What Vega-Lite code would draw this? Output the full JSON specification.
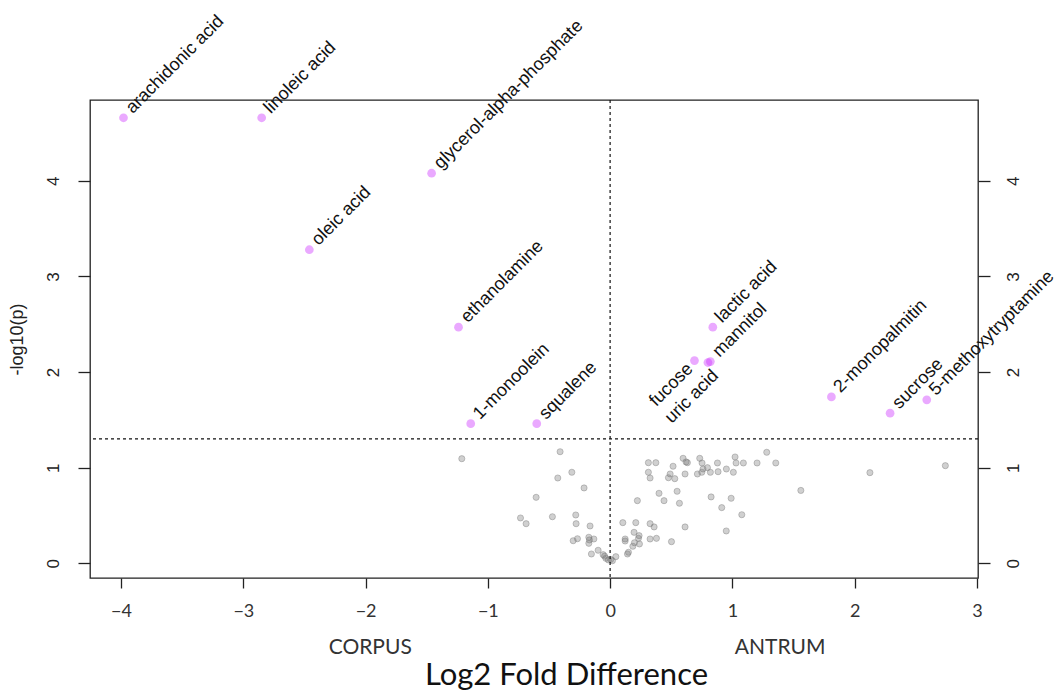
{
  "$schema": "https://vega.github.io/schema/vega-lite/v6.json",
  "width": 888,
  "height": 478,
  "autosize": {"type": "none"},
  "padding": {"left": 90, "top": 100, "right": 81, "bottom": 112},
  "background": "white",
  "config": {
    "view": {"stroke": "#222222", "strokeWidth": 1.3},
    "font": "Liberation Sans",
    "axis": {"grid": false, "domain": false, "tickColor": "#222222", "tickWidth": 1.3, "labelColor": "#222222", "titleColor": "#222222", "titleFontWeight": "normal"}
  },
  "datasets": {
    "ns": [
      {"fc": -1.213, "p": 1.094}, {"fc": -0.409, "p": 1.167}, {"fc": -0.313, "p": 0.952}, {"fc": -0.428, "p": 0.892},
      {"fc": -0.213, "p": 0.788}, {"fc": -0.605, "p": 0.690}, {"fc": -0.733, "p": 0.474}, {"fc": -0.687, "p": 0.414},
      {"fc": -0.472, "p": 0.487}, {"fc": -0.281, "p": 0.505}, {"fc": -0.278, "p": 0.414}, {"fc": -0.164, "p": 0.390},
      {"fc": -0.267, "p": 0.257}, {"fc": -0.302, "p": 0.236}, {"fc": -0.174, "p": 0.272}, {"fc": -0.169, "p": 0.244},
      {"fc": -0.133, "p": 0.254}, {"fc": -0.174, "p": 0.209}, {"fc": -0.153, "p": 0.097}, {"fc": -0.098, "p": 0.136},
      {"fc": -0.057, "p": 0.090}, {"fc": -0.035, "p": 0.052}, {"fc": -0.014, "p": 0.035}, {"fc": 0.019, "p": 0.027},
      {"fc": 0.047, "p": 0.069}, {"fc": -0.045, "p": 0.075}, {"fc": 0.005, "p": 0.040},
      {"fc": 0.142, "p": 0.097}, {"fc": 0.150, "p": 0.115}, {"fc": 0.186, "p": 0.178}, {"fc": 0.199, "p": 0.215},
      {"fc": 0.240, "p": 0.202}, {"fc": 0.232, "p": 0.261}, {"fc": 0.237, "p": 0.289}, {"fc": 0.196, "p": 0.324},
      {"fc": 0.123, "p": 0.254}, {"fc": 0.123, "p": 0.233}, {"fc": 0.104, "p": 0.425}, {"fc": 0.210, "p": 0.425},
      {"fc": 0.327, "p": 0.414}, {"fc": 0.360, "p": 0.380}, {"fc": 0.327, "p": 0.254}, {"fc": 0.379, "p": 0.261},
      {"fc": 0.502, "p": 0.226}, {"fc": 0.223, "p": 0.655}, {"fc": 0.400, "p": 0.732}, {"fc": 0.441, "p": 0.655},
      {"fc": 0.548, "p": 0.753}, {"fc": 0.567, "p": 0.628}, {"fc": 0.613, "p": 0.380}, {"fc": 0.313, "p": 1.052},
      {"fc": 0.374, "p": 1.052}, {"fc": 0.313, "p": 0.952}, {"fc": 0.327, "p": 0.892}, {"fc": 0.477, "p": 0.895},
      {"fc": 0.491, "p": 0.934}, {"fc": 0.529, "p": 0.885}, {"fc": 0.515, "p": 1.015}, {"fc": 0.597, "p": 1.098},
      {"fc": 0.632, "p": 1.052}, {"fc": 0.621, "p": 1.060}, {"fc": 0.613, "p": 0.934}, {"fc": 0.714, "p": 0.934},
      {"fc": 0.733, "p": 1.098}, {"fc": 0.752, "p": 1.049}, {"fc": 0.760, "p": 0.986}, {"fc": 0.750, "p": 0.952},
      {"fc": 0.796, "p": 1.000}, {"fc": 0.820, "p": 0.952}, {"fc": 0.878, "p": 1.049}, {"fc": 0.883, "p": 0.958},
      {"fc": 0.951, "p": 0.986}, {"fc": 1.008, "p": 0.952}, {"fc": 1.022, "p": 1.112}, {"fc": 1.030, "p": 1.049},
      {"fc": 1.090, "p": 1.049}, {"fc": 1.202, "p": 1.049}, {"fc": 1.281, "p": 1.161}, {"fc": 1.355, "p": 1.049},
      {"fc": 0.826, "p": 0.694}, {"fc": 0.990, "p": 0.680}, {"fc": 0.913, "p": 0.582}, {"fc": 1.077, "p": 0.508},
      {"fc": 0.950, "p": 0.338}, {"fc": 1.560, "p": 0.762}, {"fc": 2.125, "p": 0.948}, {"fc": 2.742, "p": 1.021}
    ],
    "sig": [
      {"name": "arachidonic acid", "fc": -3.98, "p": 4.66},
      {"name": "linoleic acid", "fc": -2.85, "p": 4.66},
      {"name": "glycerol-alpha-phosphate", "fc": -1.46, "p": 4.08},
      {"name": "oleic acid", "fc": -2.46, "p": 3.28},
      {"name": "ethanolamine", "fc": -1.24, "p": 2.47},
      {"name": "1-monoolein", "fc": -1.14, "p": 1.46},
      {"name": "squalene", "fc": -0.60, "p": 1.46},
      {"name": "fucose", "fc": 0.69, "p": 2.12},
      {"name": "uric acid", "fc": 0.80, "p": 2.10},
      {"name": "mannitol", "fc": 0.82, "p": 2.11},
      {"name": "lactic acid", "fc": 0.84, "p": 2.47},
      {"name": "2-monopalmitin", "fc": 1.81, "p": 1.74},
      {"name": "sucrose", "fc": 2.29, "p": 1.57},
      {"name": "5-methoxytryptamine", "fc": 2.59, "p": 1.71}
    ],
    "sides": [
      {"side": "CORPUS", "fc": -1.962, "p": -0.886},
      {"side": "ANTRUM", "fc": 1.39, "p": -0.886}
    ]
  },
  "resolve": {"axis": {"x": "independent", "y": "independent"}},
  "layer": [
    {
      "data": {"name": "ns"},
      "mark": {"type": "point", "filled": true, "fill": "#777777", "fillOpacity": 0.35, "stroke": "#777777", "strokeOpacity": 0.4, "strokeWidth": 1, "size": 38, "opacity": 1},
      "encoding": {
        "x": {
          "field": "fc", "type": "quantitative",
          "scale": {"domain": [-4.254, 3.009], "nice": false, "zero": false},
          "axis": {
            "orient": "bottom", "values": [-4, -3, -2, -1, 0, 1, 2, 3], "tickSize": 10,
            "labelFont": "Lato", "labelFontSize": 18, "labelPadding": 14, "labelColor": "#333333",
            "title": "Log2 Fold Difference", "titleFont": "Lato", "titleFontSize": 31,
            "titleX": 476, "titleY": 106, "titleBaseline": "alphabetic", "titleAlign": "center", "titleColor": "#111111"
          }
        },
        "y": {
          "field": "p", "type": "quantitative",
          "scale": {"domain": [-0.154, 4.846], "nice": false, "zero": false},
          "axis": {
            "orient": "left", "values": [0, 1, 2, 3, 4], "tickSize": 12,
            "labelAngle": 270, "labelAlign": "center", "labelBaseline": "bottom", "labelFontSize": 17, "labelPadding": 16,
            "title": "-log10(p)", "titleFontSize": 18, "titlePadding": 18
          }
        }
      }
    },
    {
      "data": {"name": "sig"},
      "mark": {"type": "point", "filled": true, "fill": "#cc33ff", "fillOpacity": 0.42, "strokeWidth": 0, "size": 76, "opacity": 1},
      "encoding": {
        "x": {"field": "fc", "type": "quantitative", "axis": null},
        "y": {
          "field": "p", "type": "quantitative",
          "axis": {
            "orient": "right", "values": [0, 1, 2, 3, 4], "tickSize": 12,
            "labelAngle": 270, "labelAlign": "center", "labelBaseline": "top", "labelFontSize": 17, "labelPadding": 15,
            "title": null
          }
        }
      }
    },
    {
      "data": {"values": [{"fc": 0}]},
      "mark": {"type": "rule", "color": "#111111", "strokeDash": [3, 3], "strokeWidth": 1.2},
      "encoding": {"x": {"field": "fc", "type": "quantitative", "axis": null}}
    },
    {
      "data": {"values": [{"p": 1.301}]},
      "mark": {"type": "rule", "color": "#111111", "strokeDash": [3, 3], "strokeWidth": 1.2},
      "encoding": {"y": {"field": "p", "type": "quantitative", "axis": null}}
    },
    {
      "data": {"name": "sig"},
      "transform": [{"filter": "datum.name != 'fucose' && datum.name != 'uric acid'"}],
      "mark": {"type": "text", "angle": -45, "align": "left", "baseline": "middle", "dx": 9, "dy": -1, "fontSize": 18, "color": "#111111"},
      "encoding": {
        "x": {"field": "fc", "type": "quantitative", "axis": null},
        "y": {"field": "p", "type": "quantitative", "axis": null},
        "text": {"field": "name"}
      }
    },
    {
      "data": {"name": "sig"},
      "transform": [{"filter": "datum.name == 'fucose'"}],
      "mark": {"type": "text", "angle": -45, "align": "right", "baseline": "middle", "dx": -7, "dy": 1, "fontSize": 18, "color": "#111111"},
      "encoding": {
        "x": {"field": "fc", "type": "quantitative", "axis": null},
        "y": {"field": "p", "type": "quantitative", "axis": null},
        "text": {"field": "name"}
      }
    },
    {
      "data": {"name": "sig"},
      "transform": [{"filter": "datum.name == 'uric acid'"}],
      "mark": {"type": "text", "angle": -45, "align": "right", "baseline": "middle", "dx": -2, "dy": 13, "fontSize": 18, "color": "#111111"},
      "encoding": {
        "x": {"field": "fc", "type": "quantitative", "axis": null},
        "y": {"field": "p", "type": "quantitative", "axis": null},
        "text": {"field": "name"}
      }
    },
    {
      "data": {"name": "sides"},
      "mark": {"type": "text", "align": "center", "baseline": "middle", "font": "Lato", "fontSize": 21, "color": "#333333"},
      "encoding": {
        "x": {"field": "fc", "type": "quantitative", "axis": null},
        "y": {"field": "p", "type": "quantitative", "axis": null},
        "text": {"field": "side"}
      }
    }
  ]
}
